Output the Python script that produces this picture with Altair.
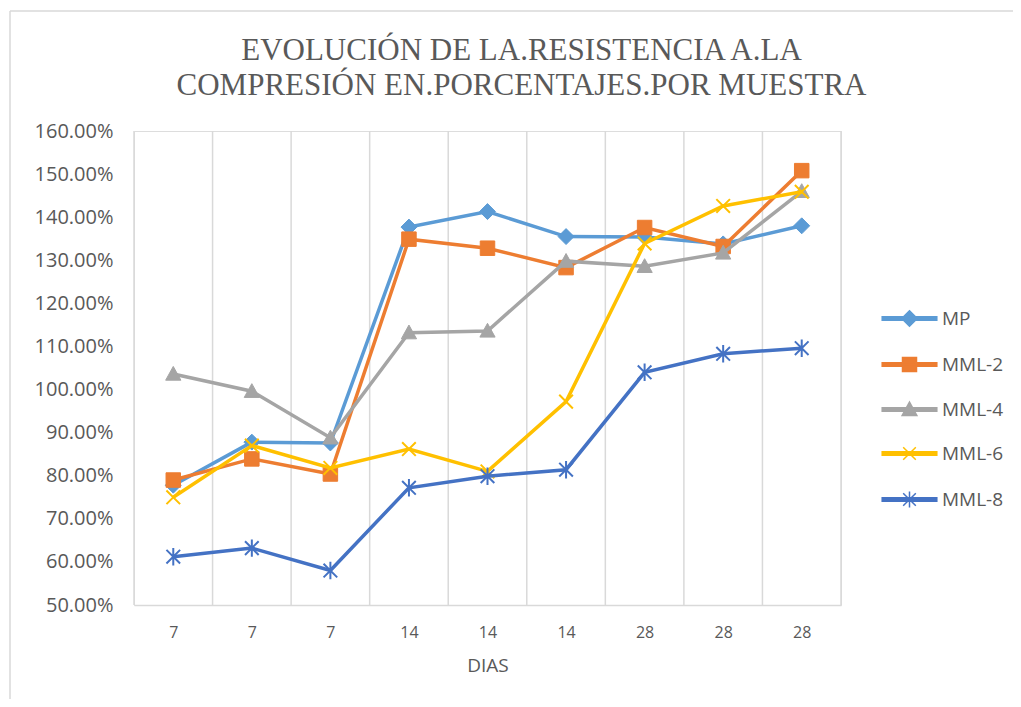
import altair as alt
import pandas as pd

# ---- data ----
DAY_LABELS = ["7", "7", "7", "14", "14", "14", "28", "28", "28"]
SERIES = ["MP", "MML-2", "MML-4", "MML-6", "MML-8"]
MP = [0.778, 0.878, 0.876, 1.377, 1.413, 1.355, 1.354, 1.338, 1.380]
MML2 = [0.790, 0.839, 0.804, 1.349, 1.328, 1.283, 1.376, 1.332, 1.508]
MML4 = [1.036, 0.996, 0.888, 1.132, 1.136, 1.298, 1.286, 1.317, 1.460]
MML6 = [0.750, 0.870, 0.818, 0.862, 0.810, 0.972, 1.339, 1.426, 1.459]
MML8 = [0.612, 0.632, 0.580, 0.772, 0.799, 0.814, 1.040, 1.083, 1.096]
VALUES = [MP, MML2, MML4, MML6, MML8]

COLORS = ["#5B9BD5", "#ED7D31", "#A5A5A5", "#FFC000", "#4472C4"]
POINT_SHAPES = [
    "M0,-1.1L1.1,0L0,1.1L-1.1,0Z",
    "M-1,-1L1,-1L1,1L-1,1Z",
    "M0,-1.05L1.05,0.85L-1.05,0.85Z",
    "M-0.9,-0.9L0.9,0.9M-0.9,0.9L0.9,-0.9",
    "M-0.9,-0.9L0.9,0.9M-0.9,0.9L0.9,-0.9M0,-1.15L0,1.15",
]
FILLED = [True, True, True, False, False]

LINE = "M-3.9,-0.24L3.9,-0.24L3.9,0.24L-3.9,0.24Z"
LEGEND_SHAPES = [LINE + s for s in POINT_SHAPES]

rows = []
for name, vals in zip(SERIES, VALUES):
    for i, v in enumerate(vals):
        rows.append({"series": name, "idx": i, "value": v})
df = pd.DataFrame(rows)

bounds = pd.DataFrame({"b": [i - 0.5 for i in range(len(DAY_LABELS) + 1)]})

label_expr = "[" + ",".join("'%s'" % d for d in DAY_LABELS) + "][datum.value]"

x_enc = alt.X(
    "idx:Q",
    scale=alt.Scale(domain=[-0.5, len(DAY_LABELS) - 0.5], nice=False, zero=False),
    axis=alt.Axis(
        values=list(range(len(DAY_LABELS))),
        labelExpr=label_expr,
        title="DIAS",
        grid=False,
        ticks=False,
        domain=True,
        domainColor="#D9D9D9",
        domainWidth=1.5,
        labelFont="Open Sans",
        labelFontSize=16,
        labelColor="#595959",
        labelPadding=19,
        titleFont="Open Sans",
        titleFontSize=19,
        titleFontWeight="normal",
        titleColor="#595959",
        titlePadding=16,
    ),
)
y_enc = alt.Y(
    "value:Q",
    scale=alt.Scale(domain=[0.5, 1.6], nice=False, zero=False),
    axis=alt.Axis(
        values=[0.5 + 0.1 * k for k in range(12)],
        format=".2%",
        grid=False,
        ticks=False,
        domain=False,
        labelFont="Open Sans",
        labelFontSize=20,
        labelColor="#595959",
        labelPadding=21,
        title=None,
    ),
)

grid = alt.Chart(bounds).mark_rule(color="#D9D9D9", strokeWidth=1.5).encode(
    x=alt.X("b:Q", scale=alt.Scale(domain=[-0.5, len(DAY_LABELS) - 0.5], nice=False, zero=False))
)

# outer chart frame (decoration, left and top edges)
frame_left = alt.Chart(bounds.head(1)).mark_rule(color="#D9D9D9", strokeWidth=1.5).encode(
    x=alt.value(-124), y=alt.value(-120), y2=alt.value(600)
)
frame_top = alt.Chart(bounds.head(1)).mark_rule(color="#D9D9D9", strokeWidth=1.5).encode(
    x=alt.value(-124), x2=alt.value(900), y=alt.value(-120)
)

layers = [frame_left, frame_top, grid]
for name, color, shape, filled in zip(SERIES, COLORS, POINT_SHAPES, FILLED):
    sub = alt.Chart(df).transform_filter(alt.datum.series == name)
    layers.append(
        sub.mark_line(color=color, strokeWidth=3.5).encode(x=x_enc, y=y_enc)
    )
    if filled:
        pt = sub.mark_point(shape=shape, filled=True, size=210, color=color,
                            stroke=color, strokeWidth=1, opacity=1)
    else:
        pt = sub.mark_point(shape=shape, filled=False, size=230, color=color,
                            strokeWidth=2, opacity=1)
    layers.append(pt.encode(x=x_enc, y=y_enc))

legend_layer = (
    alt.Chart(df)
    .transform_filter(alt.datum.idx < 0)
    .mark_point(filled=True, strokeWidth=1.5, opacity=1)
    .encode(
        x=x_enc,
        y=y_enc,
        shape=alt.Shape(
            "series:N",
            scale=alt.Scale(domain=SERIES, range=LEGEND_SHAPES),
            legend=alt.Legend(
                title=None,
                orient="none",
                legendX=766,
                legendY=178,
                symbolSize=196,
                symbolStrokeWidth=1.5,
                labelOffset=23,
                labelFont="Open Sans",
                labelFontSize=19,
                labelColor="#595959",
                rowPadding=24,
            ),
        ),
        fill=alt.Fill("series:N", scale=alt.Scale(domain=SERIES, range=COLORS)),
        stroke=alt.Stroke("series:N", scale=alt.Scale(domain=SERIES, range=COLORS)),
    )
)
layers.append(legend_layer)

chart = (
    alt.layer(*layers)
    .properties(
        width=707,
        height=474,
        title=alt.TitleParams(
            text=["EVOLUCIÓN DE LA.RESISTENCIA A.LA",
                  "COMPRESIÓN EN.PORCENTAJES.POR MUESTRA"],
            font="Liberation Serif",
            fontSize=31,
            fontWeight="normal",
            color="#595959",
            anchor="middle",
            frame="group",
            dx=34,
            dy=112,
            lineHeight=35,
            offset=20,
        ),
        autosize=alt.AutoSizeParams(type="none"),
        padding={"left": 126, "top": 123, "right": 172, "bottom": 94},
    )
    .configure_view(stroke=None)
    .configure(background="white")
)

chart.save("out.html", embed_options={"renderer": "svg", "actions": False})
